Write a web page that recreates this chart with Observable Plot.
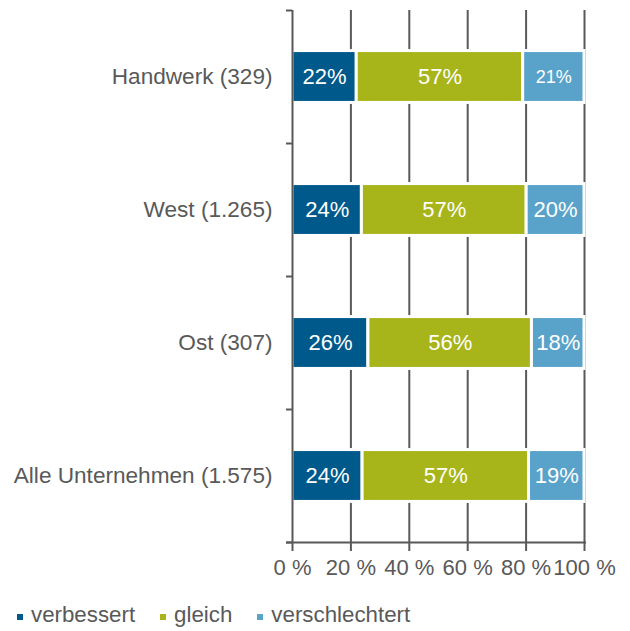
<!DOCTYPE html>
<html><head><meta charset="utf-8">
<script src="https://cdn.jsdelivr.net/npm/d3@7"></script>
<script src="https://cdn.jsdelivr.net/npm/@observablehq/plot@0.6"></script>
<style>
body{margin:0;background:#fff;font-family:"Liberation Sans",Arial,sans-serif;}
#legend{display:flex;align-items:center;padding-top:13px;padding-left:17px;font-size:22.3px;line-height:24px;color:#595959;}
#legend .item{display:flex;align-items:center;margin-right:25px;}
#legend .sw{width:6px;height:6px;margin-right:8px;margin-top:3px;}
</style></head><body>
<div id="chart"></div>
<div id="legend"></div>
<script>
const categories = ["Handwerk (329)", "West (1.265)", "Ost (307)", "Alle Unternehmen (1.575)"];
const series = ["verbessert", "gleich", "verschlechtert"];
const verbessert = [22, 24, 26, 24];
const gleich = [57, 57, 56, 57];
const verschlechtert = [21, 20, 18, 19];
const xTicks = [0, 20, 40, 60, 80, 100];
const colors = ["#00598b", "#a7b51b", "#59a3ca"];

const values = [verbessert, gleich, verschlechtert];
const rows = [];
categories.forEach((c, i) => {
  series.forEach((s, j) => rows.push({cat: c, idx: i, s, v: values[j][i]}));
});
const grid = "#595959";
const half = 0.195;

const plot = Plot.plot({
  width: 630,
  height: 590,
  marginLeft: 292,
  marginRight: 46,
  marginTop: 10,
  marginBottom: 48,
  style: {fontFamily: "'Liberation Sans', Arial, sans-serif", color: grid, background: "white"},
  x: {domain: [0, 1], label: null},
  y: {domain: [0, 4], range: [10, 542], label: null},
  color: {domain: series, range: colors},
  marks: [
    Plot.ruleX(xTicks.slice(1).map(t => t / 100), {y1: 0, y2: 4, stroke: grid, strokeWidth: 2}),
    Plot.rectX(rows, Plot.stackX({
      x: "v", y1: d => d.idx + 0.5 - half, y2: d => d.idx + 0.5 + half,
      fill: "s", offset: "normalize", stroke: "white", strokeWidth: 3
    })),
    Plot.text(rows, Plot.stackX({
      x: "v", y: d => d.idx + 0.5, text: d => d.v + "%", offset: "normalize",
      fill: "white", fontSize: d => (d.idx === 0 && d.s === "verschlechtert") ? 18 : 22
    })),
    Plot.ruleX([0], {y1: 0, y2: 4, stroke: grid, strokeWidth: 2}),
    Plot.ruleY(d3.range(5), {x1: 0, x2: 0, insetLeft: -6, stroke: grid, strokeWidth: 2}),
    Plot.ruleY([4], {x1: 0, x2: 1, insetLeft: -6, insetRight: -2, stroke: grid, strokeWidth: 2}),
    Plot.axisX({
      ticks: xTicks.map(t => t / 100), tickFormat: d => `${Math.round(d * 100)} %`,
      tickSize: 9, tickPadding: 8, fontSize: 22, stroke: grid, strokeWidth: 2, fill: grid, label: null
    }),
    Plot.axisY({
      ticks: categories.map((c, i) => i + 0.5), tickFormat: d => categories[Math.floor(d)],
      tickSize: 0, tickPadding: 20, fontSize: 22.6, fill: grid, label: null
    })
  ]
});
document.getElementById("chart").appendChild(plot);

const legend = d3.select("#legend");
series.forEach((s, j) => {
  const it = legend.append("div").attr("class", "item");
  it.append("div").attr("class", "sw").style("background", colors[j]);
  it.append("span").text(s);
});
</script>
</body></html>
